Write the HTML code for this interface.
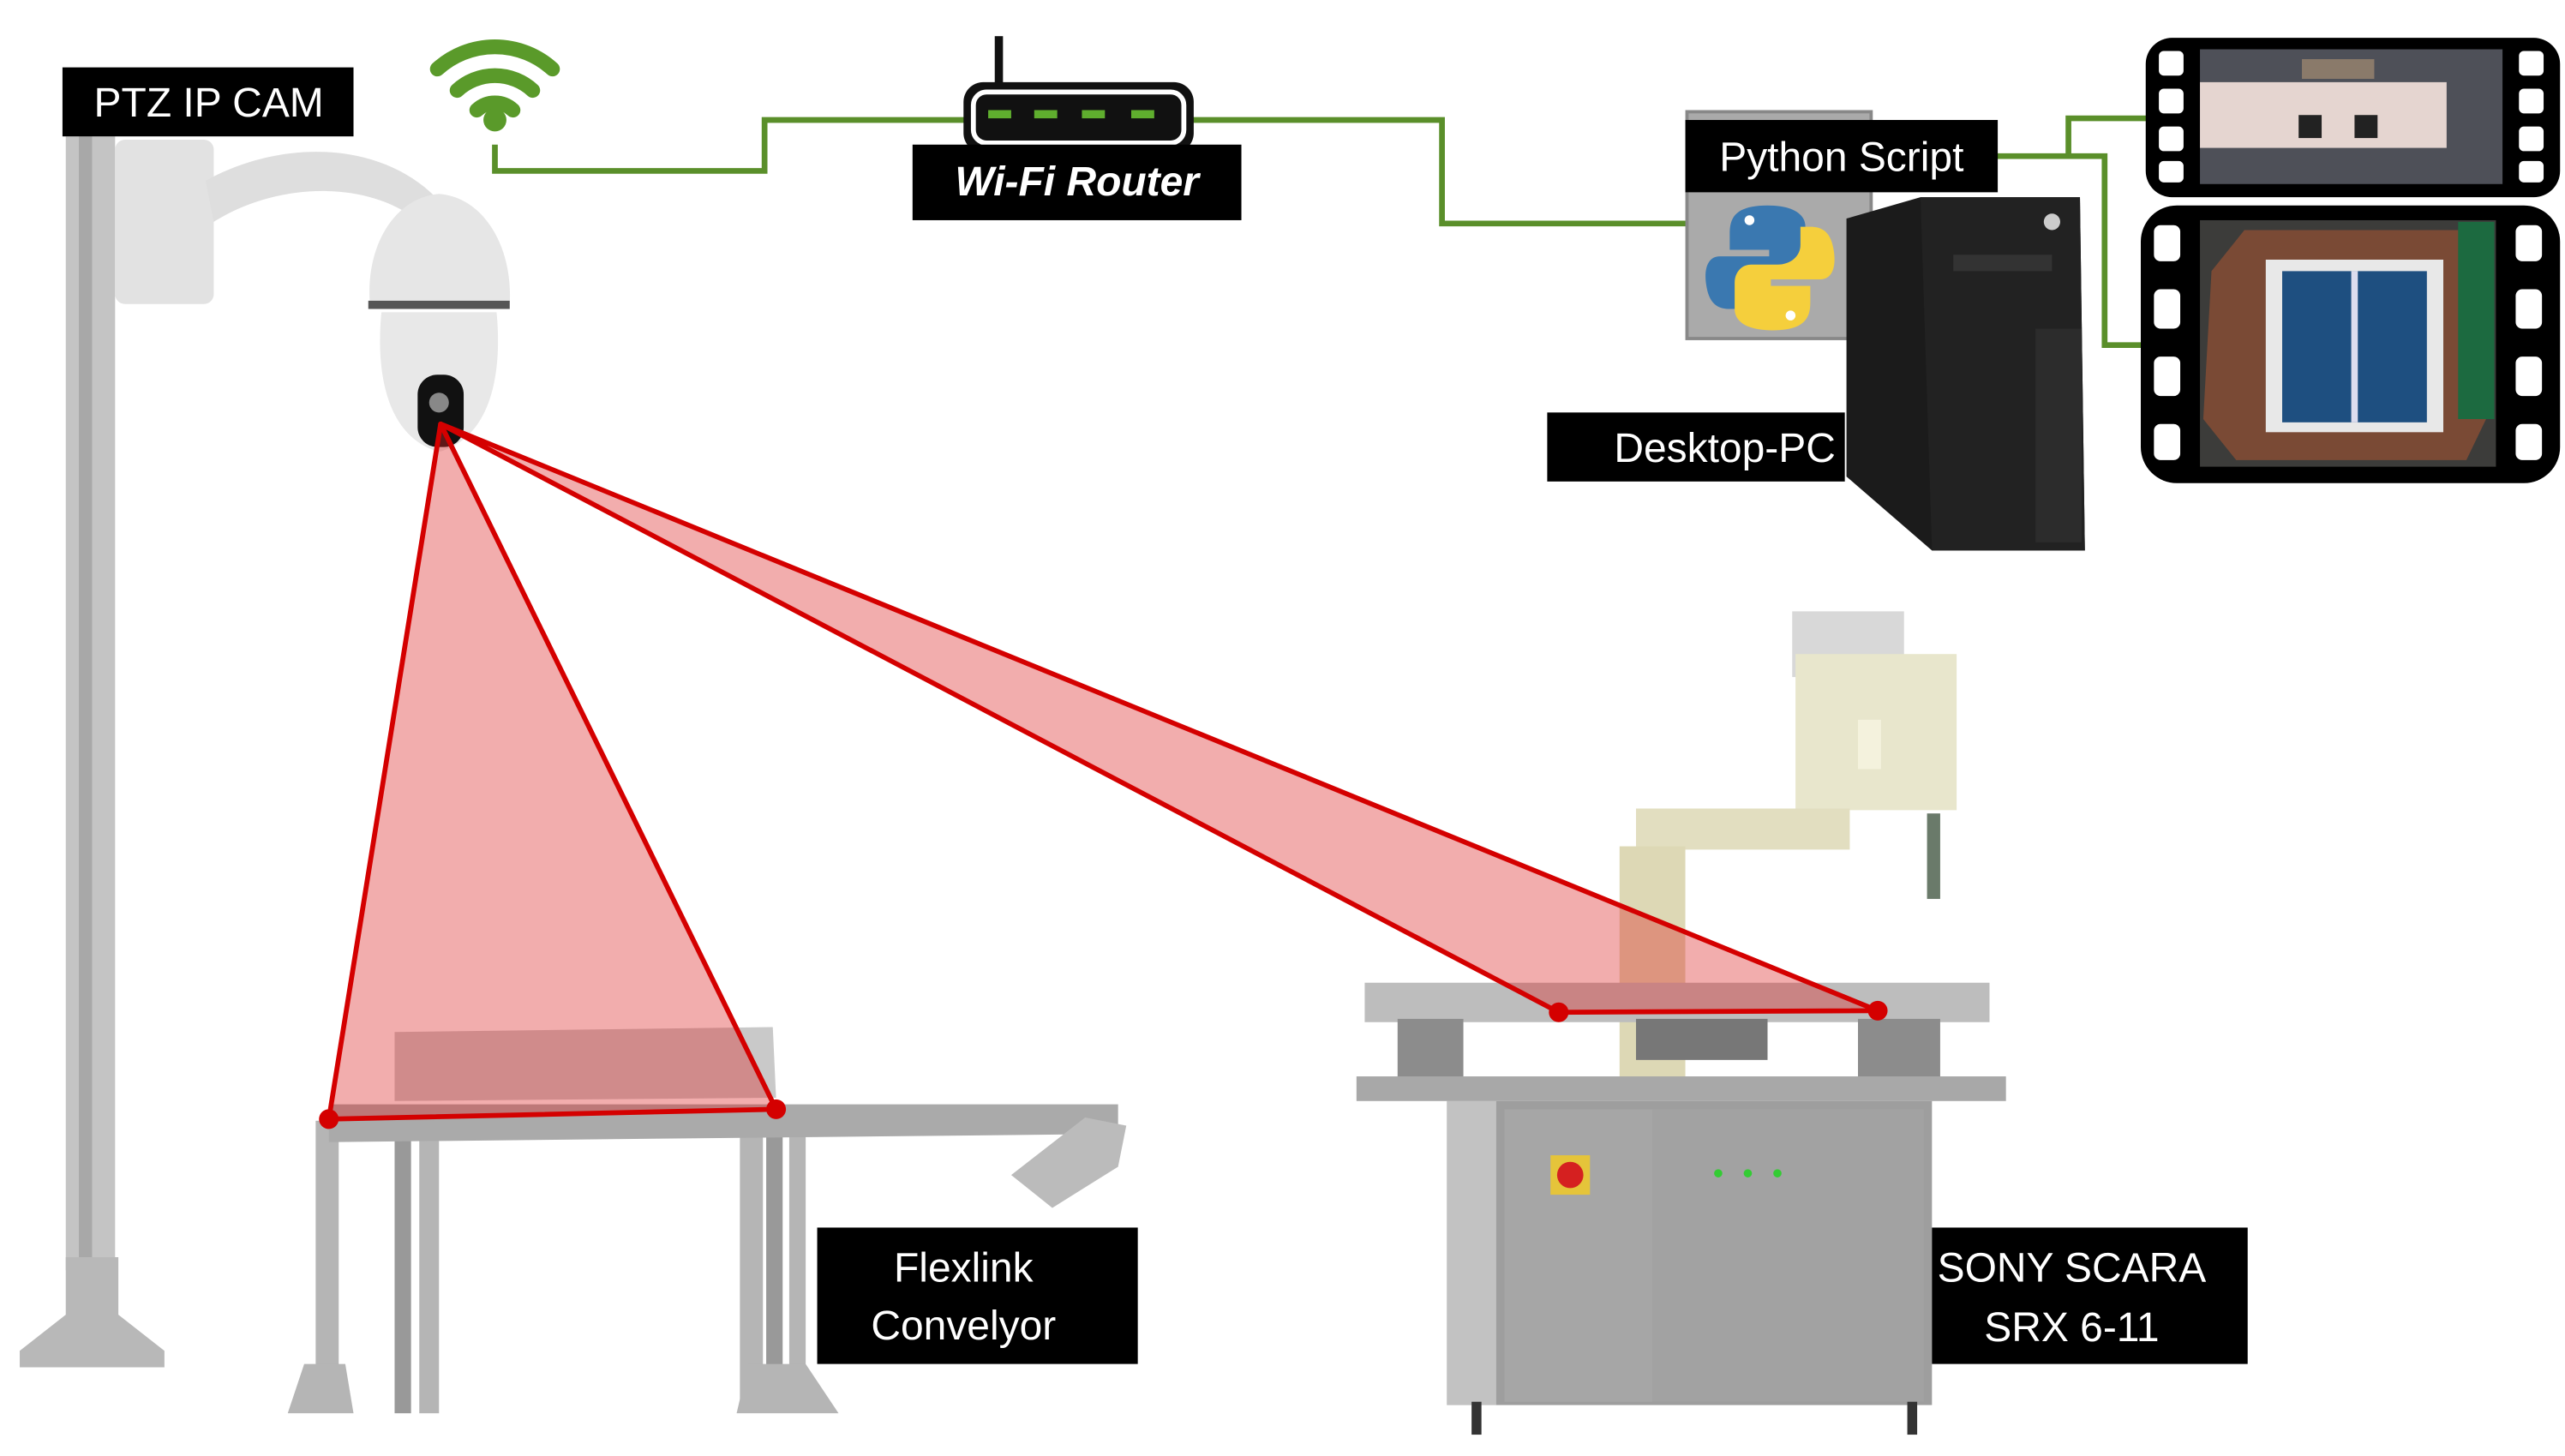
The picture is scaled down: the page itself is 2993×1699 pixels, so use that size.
<!DOCTYPE html>
<html><head><meta charset="utf-8"><style>
html,body{margin:0;padding:0;background:#fff;}
svg{display:block;}
text{font-family:"Liberation Sans",sans-serif;fill:#fff;}
</style></head><body>
<svg width="2993" height="1699" viewBox="0 0 1560 886" preserveAspectRatio="none" xmlns="http://www.w3.org/2000/svg">
<rect width="1560" height="886" fill="#fff"/>
<!-- pole -->
<rect x="40" y="83" width="30" height="690" fill="#c4c4c4"/>
<rect x="48" y="83" width="8" height="690" fill="#a8a8a8"/>
<polygon points="40,765 72,765 72,800 100,822 100,832 12,832 12,822 40,800" fill="#b8b8b8"/>
<!-- camera -->
<rect x="70" y="85" width="60" height="100" rx="6" fill="#e2e2e2"/>
<path d="M125,110 C170,85 230,85 265,120 L255,135 C225,110 170,110 130,135 Z" fill="#dedede"/>
<path d="M225,185 C222,150 240,120 267,118 C294,120 312,150 310,185 Z" fill="#e6e6e6"/>
<rect x="224" y="183" width="86" height="5" fill="#555"/>
<path d="M232,190 L302,190 C305,220 302,265 267,275 C232,265 229,220 232,190 Z" fill="#e8e8e8"/>
<rect x="254" y="228" width="28" height="44" rx="12" fill="#111"/>
<circle cx="267" cy="245" r="6" fill="#888"/>
<!-- wifi -->
<g fill="none" stroke="#5a9a2a" stroke-width="9" stroke-linecap="round">
<path d="M266,42 A52,52 0 0 1 336,42"/>
<path d="M278,55 A34,34 0 0 1 324,55"/>
<path d="M290,67 A16,16 0 0 1 312,67"/>
</g>
<circle cx="301" cy="73" r="7" fill="#5a9a2a"/>
<!-- green connectors -->
<g fill="none" stroke="#5a8f2a" stroke-width="3.5">
<polyline points="301,88 301,104 465,104 465,73 587,73"/>
<polyline points="725,73 877,73 877,136 1026,136"/>
<polyline points="1214,95 1258,95 1258,72 1306,72"/>
<polyline points="1258,95 1280,95 1280,210 1303,210"/>
</g>
<!-- router -->
<rect x="605" y="22" width="5" height="32" fill="#111"/>
<rect x="586" y="50" width="140" height="43" rx="12" fill="#111"/>
<rect x="592" y="56" width="128" height="31" rx="8" fill="none" stroke="#fff" stroke-width="3"/>
<g fill="#5fae2e"><rect x="601" y="67" width="14" height="5"/><rect x="629" y="67" width="14" height="5"/><rect x="658" y="67" width="14" height="5"/><rect x="688" y="67" width="14" height="5"/></g>
<rect x="555" y="88" width="200" height="46" fill="#000"/>
<text x="655" y="119" font-size="25" font-weight="bold" font-style="italic" text-anchor="middle">Wi-Fi Router</text>
<!-- python -->
<rect x="1026" y="68" width="112" height="138" fill="#aaa" stroke="#888" stroke-width="2"/>
<path d="M1075,125 C1055,125 1052,133 1052,142 L1052,152 L1076,152 L1076,156 L1046,156 C1038,156 1036,165 1038,175 C1040,186 1046,188 1052,188 L1058,188 L1058,177 C1058,170 1064,165 1072,165 L1088,165 C1094,165 1098,160 1098,154 L1098,138 C1098,130 1090,125 1075,125 Z" fill="#3a78b0"/>
<path d="M1078,201 C1098,201 1101,193 1101,184 L1101,174 L1077,174 L1077,170 L1107,170 C1115,170 1117,161 1115,151 C1113,140 1107,138 1101,138 L1095,138 L1095,149 C1095,156 1089,161 1081,161 L1065,161 C1059,161 1055,166 1055,172 L1055,188 C1055,196 1063,201 1078,201 Z" fill="#f5cf3c"/>
<circle cx="1064" cy="134" r="3" fill="#fff"/><circle cx="1089" cy="192" r="3" fill="#fff"/>
<rect x="1025" y="73" width="190" height="44" fill="#000"/>
<text x="1120" y="104" font-size="25" text-anchor="middle">Python Script</text>
<!-- PC tower -->
<polygon points="1123,133 1168,120 1265,120 1268,335 1175,335 1123,290" fill="#1b1b1b"/>
<polygon points="1168,120 1265,120 1268,335 1175,335" fill="#222"/>
<rect x="1188" y="155" width="60" height="10" fill="#333"/>
<rect x="1238" y="200" width="28" height="130" fill="#2c2c2c"/>
<circle cx="1248" cy="135" r="5" fill="#ccc"/>
<rect x="941" y="251" width="181" height="42" fill="#000"/>
<text x="1049" y="281" font-size="25" text-anchor="middle">Desktop-PC</text>
<!-- film strips -->
<rect x="1305" y="23" width="252" height="97" rx="16" fill="#000"/>
<rect x="1338" y="30" width="184" height="82" fill="#4e5058"/>
<rect x="1338" y="50" width="150" height="40" fill="#e5d5d0"/>
<rect x="1398" y="70" width="14" height="14" fill="#222"/><rect x="1432" y="70" width="14" height="14" fill="#222"/>
<rect x="1400" y="36" width="44" height="12" fill="#8a7a6a"/>
<g fill="#fff">
<rect x="1313" y="31" width="15" height="15" rx="3"/><rect x="1313" y="54" width="15" height="15" rx="3"/><rect x="1313" y="77" width="15" height="15" rx="3"/><rect x="1313" y="98" width="15" height="13" rx="3"/>
<rect x="1532" y="31" width="15" height="15" rx="3"/><rect x="1532" y="54" width="15" height="15" rx="3"/><rect x="1532" y="77" width="15" height="15" rx="3"/><rect x="1532" y="98" width="15" height="13" rx="3"/>
</g>
<rect x="1302" y="125" width="255" height="169" rx="22" fill="#000"/>
<rect x="1338" y="134" width="180" height="150" fill="#3c3c3a"/>
<polygon points="1345,165 1365,140 1500,140 1512,160 1512,255 1500,280 1360,280 1340,255" fill="#7a4a35"/>
<rect x="1378" y="158" width="108" height="105" fill="#e8e8e8"/>
<rect x="1388" y="165" width="88" height="92" fill="#1e4f80"/>
<rect x="1430" y="165" width="4" height="92" fill="#dde"/>
<rect x="1495" y="135" width="22" height="120" fill="#1c6a40"/>
<g fill="#fff">
<rect x="1310" y="137" width="16" height="22" rx="4"/><rect x="1310" y="176" width="16" height="24" rx="4"/><rect x="1310" y="217" width="16" height="24" rx="4"/><rect x="1310" y="258" width="16" height="22" rx="4"/>
<rect x="1530" y="137" width="16" height="22" rx="4"/><rect x="1530" y="176" width="16" height="24" rx="4"/><rect x="1530" y="217" width="16" height="24" rx="4"/><rect x="1530" y="258" width="16" height="22" rx="4"/>
</g>
<!-- conveyor -->
<g fill="#b5b5b5">
<rect x="192" y="682" width="14" height="170"/>
<rect x="240" y="680" width="10" height="180" fill="#999"/>
<rect x="255" y="680" width="12" height="180"/>
<rect x="450" y="678" width="14" height="180"/>
<rect x="466" y="678" width="10" height="180" fill="#999"/>
<rect x="480" y="680" width="10" height="175"/>
<polygon points="200,672 680,672 680,690 200,695" fill="#aaa"/>
<polygon points="175,860 215,860 210,830 185,830"/>
<polygon points="448,860 510,860 490,830 455,830"/>
<polygon points="240,628 470,625 472,668 240,670" fill="#c9c9c9"/>
<polygon points="615,715 660,680 685,685 680,710 640,735" fill="#bbb"/>
</g>
<!-- robot -->
<g>
<rect x="1090" y="372" width="68" height="40" fill="#d8d8d8"/>
<rect x="1092" y="398" width="98" height="95" fill="#e8e6cc"/>
<rect x="1130" y="438" width="14" height="30" fill="#f4f2dd"/>
<rect x="995" y="492" width="130" height="25" fill="#e2dec0"/>
<rect x="985" y="515" width="40" height="150" fill="#ddd8b5"/>
<rect x="1172" y="495" width="8" height="52" fill="#6a7a6a"/>
<rect x="830" y="598" width="380" height="24" fill="#bdbdbd"/>
<rect x="850" y="620" width="40" height="40" fill="#8c8c8c"/>
<rect x="1130" y="620" width="50" height="40" fill="#8c8c8c"/>
<rect x="995" y="620" width="80" height="25" fill="#777"/>
<rect x="825" y="655" width="395" height="15" fill="#a8a8a8"/>
<rect x="880" y="670" width="295" height="185" fill="#9e9e9e"/>
<rect x="915" y="675" width="90" height="178" fill="#a6a6a6"/>
<rect x="1005" y="675" width="165" height="178" fill="#a2a2a2"/>
<rect x="880" y="670" width="30" height="185" fill="#c2c2c2"/>
<rect x="943" y="703" width="24" height="24" fill="#e5c43a"/>
<circle cx="955" cy="715" r="8" fill="#d52020"/>
<circle cx="1045" cy="714" r="2.5" fill="#3c3"/><circle cx="1063" cy="714" r="2.5" fill="#3c3"/><circle cx="1081" cy="714" r="2.5" fill="#3c3"/>
<rect x="895" y="853" width="6" height="20" fill="#333"/><rect x="1160" y="853" width="6" height="20" fill="#333"/>
</g>
<!-- red view cones -->
<g fill="rgba(220,40,40,0.38)" stroke="#d40000" stroke-width="3" stroke-linejoin="round">
<polygon points="268,258 200,681 472,675"/>
<polygon points="268,258 948,616 1142,615"/>
</g>
<g fill="#d40000"><circle cx="200" cy="681" r="6"/><circle cx="472" cy="675" r="6"/><circle cx="948" cy="616" r="6"/><circle cx="1142" cy="615" r="6"/></g>
<!-- labels -->
<rect x="38" y="41" width="177" height="42" fill="#000"/>
<text x="127" y="71" font-size="25" text-anchor="middle">PTZ IP CAM</text>
<rect x="497" y="747" width="195" height="83" fill="#000"/>
<text x="586" y="780" font-size="25" text-anchor="middle">Flexlink</text>
<text x="586" y="815" font-size="25" text-anchor="middle">Convelyor</text>
<rect x="1175" y="747" width="192" height="83" fill="#000"/>
<text x="1260" y="780" font-size="25" text-anchor="middle">SONY SCARA</text>
<text x="1260" y="816" font-size="25" text-anchor="middle">SRX 6-11</text>
</svg>
</body></html>
